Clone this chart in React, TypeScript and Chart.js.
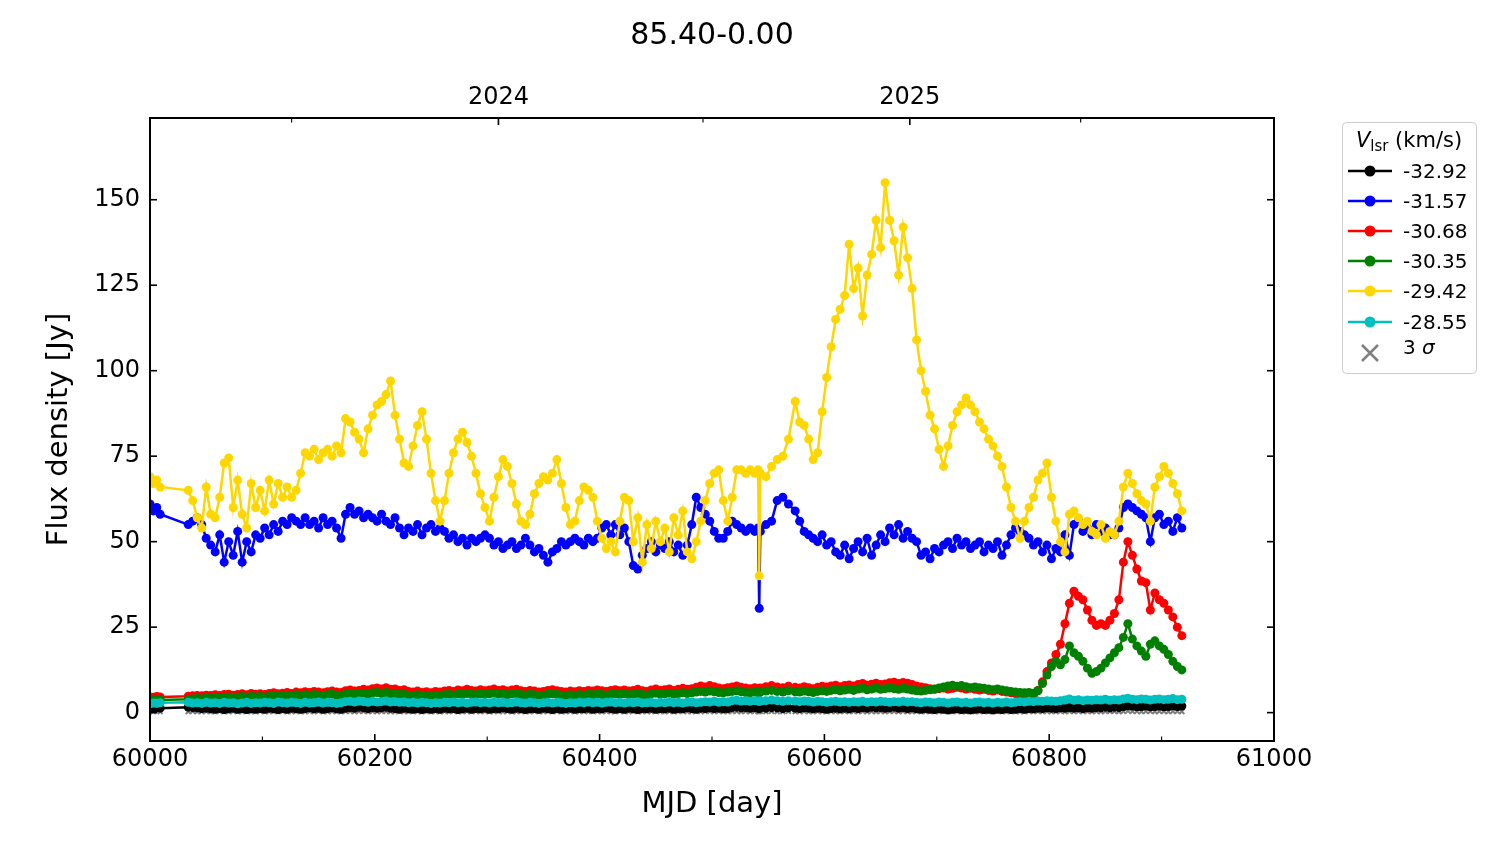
import { useEffect, useRef } from 'react';
import { Chart, registerables } from 'chart.js';

Chart.register(...registerables);

const FONT = "'DejaVu Sans', 'Liberation Sans', sans-serif";

// ---------------- data ----------------
const chartTitle = '85.40-0.00';
const velocities = ['-32.92', '-31.57', '-30.68', '-30.35', '-29.42', '-28.55'];
const seriesColors = ['#000000', '#0000ff', '#ff0000', '#008000', '#ffd700', '#00bfbf'];

const mjdTicks = [60000, 60200, 60400, 60600, 60800, 61000];
const mjdMinorTicks = [60100, 60300, 60500, 60700, 60900];
const fluxTicks = [0, 25, 50, 75, 100, 125, 150];
const yearTicks = [60310, 60676];
const yearLabels = ['2024', '2025'];
const yearMinorTicks = [60126, 60492, 60828];

const mjd = [
  60000, 60003, 60006, 60009, 60034, 60038, 60042, 60046, 60050, 60054,
  60058, 60062, 60066, 60070, 60074, 60078, 60082, 60086, 60090, 60094,
  60098, 60102, 60106, 60110, 60114, 60118, 60122, 60126, 60130, 60134,
  60138, 60142, 60146, 60150, 60154, 60158, 60162, 60166, 60170, 60174,
  60178, 60182, 60186, 60190, 60194, 60198, 60202, 60206, 60210, 60214,
  60218, 60222, 60226, 60230, 60234, 60238, 60242, 60246, 60250, 60254,
  60258, 60262, 60266, 60270, 60274, 60278, 60282, 60286, 60290, 60294,
  60298, 60302, 60306, 60310, 60314, 60318, 60322, 60326, 60330, 60334,
  60338, 60342, 60346, 60350, 60354, 60358, 60362, 60366, 60370, 60374,
  60378, 60382, 60386, 60390, 60394, 60398, 60402, 60406, 60410, 60414,
  60418, 60422, 60426, 60430, 60434, 60438, 60442, 60446, 60450, 60454,
  60458, 60462, 60466, 60470, 60474, 60478, 60482, 60486, 60490, 60494,
  60498, 60502, 60506, 60510, 60514, 60518, 60522, 60526, 60530, 60534,
  60538, 60541, 60542, 60543, 60548, 60553, 60558, 60563, 60568, 60574,
  60578, 60582, 60586, 60590, 60594, 60598, 60602, 60606, 60610, 60614,
  60618, 60622, 60626, 60630, 60634, 60638, 60642, 60646, 60650, 60654,
  60658, 60662, 60666, 60670, 60674, 60678, 60682, 60686, 60690, 60694,
  60698, 60702, 60706, 60710, 60714, 60718, 60722, 60726, 60730, 60734,
  60738, 60742, 60746, 60750, 60754, 60758, 60762, 60766, 60770, 60774,
  60778, 60782, 60786, 60790, 60794, 60798, 60802, 60806, 60810, 60814,
  60818, 60822, 60826, 60830, 60834, 60838, 60842, 60846, 60850, 60854,
  60858, 60862, 60866, 60870, 60874, 60878, 60882, 60886, 60890, 60894,
  60898, 60902, 60906, 60910, 60914, 60918,
];

const flux3292 = [
  1.4, 1.2, 1.5, 1.3, 1.6, 1.5, 1.4, 1.2, 1.3, 1.1,
  1.0, 1.2, 0.9, 1.1, 1.3, 1.0, 1.2, 0.9, 1.1, 1.0,
  1.2, 1.0, 1.3, 1.1, 0.9, 1.2, 1.0, 1.3, 1.1, 1.0,
  1.2, 1.4, 1.1, 1.3, 1.0, 1.2, 1.4, 1.1, 1.0, 1.3,
  1.5, 1.3, 1.6, 1.4, 1.2, 1.5, 1.3, 1.4, 1.6, 1.3,
  1.2, 1.0, 1.3, 1.1, 1.0, 1.2, 0.9, 1.1, 1.0, 1.2,
  1.0, 1.3, 1.1, 1.2, 0.9, 1.1, 1.3, 1.0, 1.2, 1.1,
  1.3, 1.0, 1.2, 1.1, 1.4, 1.2, 1.0, 1.3, 1.1, 0.9,
  1.1, 1.2, 1.0, 1.3, 1.1, 0.9, 1.2, 1.0, 1.1, 1.3,
  1.0, 1.2, 1.1, 1.3, 1.0, 1.2, 1.1, 1.4, 1.2, 1.0,
  1.2, 1.0, 1.3, 1.1, 0.9, 1.2, 1.1, 1.3, 1.0, 1.2,
  1.1, 1.3, 1.0, 1.2, 1.1, 1.4, 1.2, 1.0, 1.3, 1.2,
  1.4, 1.2, 1.3, 1.1, 1.2, 1.5, 1.6, 1.4, 1.5, 1.3,
  1.5, 1.3, 1.2, 1.4, 1.3, 1.5, 1.4, 1.2, 1.4, 1.3,
  1.2, 1.4, 1.3, 1.1, 1.3, 1.2, 1.0, 1.2, 1.3, 1.1,
  1.3, 1.1, 1.4, 1.2, 1.5, 1.3, 1.6, 1.4, 1.5, 1.3,
  1.4, 1.6, 1.3, 1.5, 1.2, 1.4, 1.1, 1.0, 1.2, 1.0,
  0.9, 1.1, 1.0, 0.8, 1.0, 1.1, 0.9, 1.0, 0.8, 1.0,
  1.1, 0.9, 1.0, 0.8, 1.0, 0.9, 1.1, 0.9, 1.0, 1.2,
  1.0, 1.2, 1.1, 1.3, 1.2, 1.4, 1.3, 1.2, 1.4, 1.3,
  1.5, 1.3, 1.4, 1.2, 1.4, 1.3, 1.5, 1.4, 1.6, 1.4,
  1.6, 1.5, 1.8, 2.0, 1.9, 1.7, 1.8, 1.9, 1.7, 1.8,
  1.9, 1.7, 1.8, 2.0, 1.8, 1.9,
];

const flux3157 = [
  61, 59, 60, 58, 55, 56, 57, 55, 51, 49,
  47, 52, 44, 50, 46, 53, 44, 50, 47, 52,
  51, 54, 52, 55, 53, 56, 55, 57, 56, 55,
  57, 55, 56, 54, 57, 55, 56, 54, 51, 58,
  60, 58, 59, 57, 58, 57, 56, 58, 56, 55,
  57, 54, 52, 54, 53, 55, 52, 54, 55, 53,
  54, 53, 51, 52, 50, 51, 49, 51, 50, 51,
  52, 51, 49, 50, 48, 49, 50, 48, 49, 51,
  49, 47, 48, 46, 44, 47, 48, 50, 49, 50,
  51, 50, 49, 51, 50, 51, 54, 55, 52, 55,
  52, 54, 50, 43, 42, 46, 48, 50, 47, 49,
  48, 50, 47, 49, 46, 49, 55, 63, 60, 58,
  56, 53, 51, 51, 53, 56, 55, 54, 53, 54,
  53, 54, 30.5, 53, 55, 56, 62, 63, 61, 59,
  56, 53, 52, 51, 50, 52, 49, 50, 47, 46,
  49, 45, 48, 50, 47, 51, 46, 49, 52, 50,
  54, 52, 55, 51, 53, 51, 50, 46, 47, 45,
  48, 47, 49, 50, 48, 51, 49, 50, 48, 49,
  50, 47, 49, 48, 50, 46, 49, 52, 54, 53,
  52, 51, 49, 50, 47, 49, 45, 48, 47, 52,
  46, 55, 56, 53, 54, 52, 55, 53, 54, 52,
  52, 54, 60, 61, 60, 59, 58, 57, 50, 57,
  58, 55, 56, 53, 57, 54,
];

const flux3068 = [
  4.6, 4.5, 4.7, 4.6, 4.8, 4.9, 5.0, 4.9, 5.1, 5.0,
  5.2, 5.0, 5.3, 5.4, 5.1, 5.3, 5.5, 5.2, 5.6, 5.4,
  5.5, 5.3, 5.6, 5.8, 5.5, 5.7, 5.9, 5.6, 6.0, 5.8,
  6.1, 5.9, 6.2, 6.0, 5.8, 6.1, 6.3, 6.0, 5.9, 6.4,
  6.6, 6.3, 6.5, 6.8, 6.6, 7.0, 7.2, 6.9, 7.3, 6.8,
  6.9, 6.5, 6.7, 6.2, 6.0, 6.3, 5.9, 6.1, 5.8, 6.2,
  6.0, 6.3, 6.5, 6.2, 6.6, 6.4, 6.8, 6.5, 6.3, 6.7,
  6.4, 6.6, 6.9, 6.5, 6.7, 6.3, 6.6, 6.8, 6.4, 6.2,
  6.5, 6.3, 6.0, 6.2, 6.5, 6.7, 6.4, 6.2, 6.0, 6.3,
  6.1, 6.4, 6.2, 6.5, 6.3, 6.6, 6.4, 6.2, 6.5, 6.7,
  6.4, 6.6, 6.3, 6.5, 6.8, 6.4, 6.2, 6.6, 6.9, 6.5,
  6.7, 6.9, 6.5, 6.8, 7.1, 6.8, 7.0, 7.4, 7.8, 7.5,
  7.9, 7.6, 7.2, 7.0, 7.3, 7.5, 7.8, 7.4, 7.2, 7.0,
  7.3, 7.1, 7.0, 7.2, 7.6, 7.9, 7.5, 7.3, 7.7, 7.4,
  7.2, 7.6, 7.3, 7.0, 7.4, 7.7, 7.5, 7.8, 8.0, 7.6,
  7.9, 8.1, 7.8, 8.2, 8.5, 8.0, 8.3, 8.6, 8.2, 8.4,
  8.7, 8.9, 8.5, 8.8, 8.6, 8.2, 7.8, 7.5, 7.3, 7.0,
  6.8, 7.0, 7.2, 6.9, 7.1, 7.4, 7.2, 6.9, 7.1, 6.8,
  6.6, 6.8, 6.5, 6.3, 6.6, 6.2, 6.0, 5.8, 5.6, 5.4,
  5.2, 5.3, 5.0, 6.5, 9.0, 12.0, 14.5, 17.0, 20.0, 26.0,
  32, 35.5, 34, 33, 30, 27, 25.5, 26, 25.5, 27,
  29, 33, 44, 50, 46, 42, 38.5, 38, 30, 35,
  33, 32, 30, 28, 25, 22.5,
];

const flux3035 = [
  3.8, 3.6, 3.9, 3.7, 3.9, 4.0, 4.2, 4.0, 4.3, 4.1,
  4.4, 4.2, 4.5, 4.6, 4.3, 4.5, 4.7, 4.4, 4.8, 4.6,
  4.7, 4.5, 4.8, 5.0, 4.7, 4.9, 5.1, 4.8, 5.2, 5.0,
  5.2, 5.0, 5.3, 5.1, 4.9, 5.2, 5.4, 5.1, 5.0, 5.5,
  5.6, 5.3, 5.5, 5.7, 5.4, 5.8, 5.9, 5.6, 5.9, 5.5,
  5.6, 5.3, 5.4, 5.0, 4.9, 5.2, 4.8, 5.0, 4.7, 5.1,
  4.9, 5.2, 5.4, 5.1, 5.5, 5.3, 5.6, 5.4, 5.2, 5.5,
  5.3, 5.5, 5.7, 5.4, 5.6, 5.2, 5.5, 5.6, 5.3, 5.1,
  5.4, 5.2, 5.0, 5.1, 5.4, 5.5, 5.3, 5.1, 4.9, 5.2,
  5.0, 5.3, 5.1, 5.4, 5.2, 5.5, 5.3, 5.1, 5.4, 5.5,
  5.3, 5.5, 5.2, 5.4, 5.6, 5.3, 5.1, 5.5, 5.7, 5.4,
  5.5, 5.7, 5.4, 5.6, 5.8, 5.6, 5.8, 6.0, 6.2, 6.0,
  6.3, 6.1, 5.9, 5.8, 6.0, 6.2, 6.4, 6.1, 5.9, 5.8,
  6.0, 5.9, 5.8, 6.0, 6.3, 6.5, 6.2, 6.0, 6.4, 6.1,
  6.0, 6.3, 6.1, 5.9, 6.2, 6.4, 6.2, 6.5, 6.7, 6.4,
  6.6, 6.8, 6.5, 6.9, 7.1, 6.7, 6.9, 7.2, 6.8, 7.0,
  7.2, 7.0, 6.8, 7.1, 6.9, 6.6, 6.4, 6.3, 6.5, 6.7,
  6.9, 7.2, 7.5, 7.8, 8.0, 7.7, 7.9, 7.6, 7.3, 7.5,
  7.3, 7.1, 6.9, 6.7, 6.9, 6.6, 6.4, 6.2, 6.0, 5.9,
  5.8, 5.9, 5.7, 6.4, 8.5, 11.0, 13.5, 15.0, 14.0, 15.5,
  19.5, 17.5, 16.5, 15, 13, 11.5, 12, 13, 14.5, 16,
  17.5, 19, 22, 26, 21.5, 19.5, 18, 16.5, 20, 21,
  19.5, 18.5, 17, 15, 13.5, 12.5,
];

const flux2942 = [
  69, 67, 68, 66, 65, 62, 57, 54, 66, 58,
  57, 63, 73, 74.5, 60, 68, 58, 54, 67, 60,
  65, 59, 68, 61, 67, 63, 66, 63, 65, 70,
  76, 75, 77, 74, 76, 77, 75, 78, 76, 86,
  85, 82, 80, 76, 83, 87, 90, 91, 93, 97,
  87, 80, 73, 72, 78, 84, 88, 80, 70, 62,
  56, 62, 70, 76, 80, 82, 79, 75, 70, 64,
  60, 56, 63, 69, 74, 72, 67, 61, 56, 55,
  58, 64, 67, 69, 68, 70, 74, 67, 60, 55,
  56, 62, 66, 65, 63, 56, 51, 48, 50, 47,
  56, 63, 62, 50, 57, 44, 55, 48, 56, 50,
  54, 47, 57, 52, 59, 47, 45, 50, 56, 62,
  67, 70, 71, 62, 56, 63, 71, 71, 70, 71,
  70, 71, 40, 70, 69, 72, 74, 75, 80, 91,
  85, 84, 80, 74, 76, 88, 98, 107, 115, 118,
  122, 137, 124, 130, 116, 128, 134, 144, 136, 155,
  144, 138, 128, 142, 133, 124, 109, 100, 94, 87,
  83, 77, 72, 78, 84, 88, 90, 92, 90, 88,
  85, 83, 80, 78, 75, 72, 66, 60, 56, 51,
  56, 60, 63, 68, 70, 73, 63, 56, 50, 47,
  58, 59, 57, 55, 56, 53, 52, 55, 51, 53,
  52, 56, 66, 70, 67, 64, 62, 61, 56, 66,
  69, 72, 70, 67, 64, 59,
];

const flux2855 = [
  2.6, 2.8, 2.7, 2.9, 3.0, 2.8, 2.9, 2.7, 3.0, 2.8,
  2.9, 2.7, 3.0, 2.8, 2.9, 2.6, 2.8, 3.0, 2.7, 2.9,
  2.8, 3.0, 2.9, 2.7, 3.1, 2.9, 2.8, 3.0, 2.9, 2.7,
  3.0, 2.8, 2.9, 3.1, 2.8, 3.0, 2.9, 2.7, 2.9, 3.2,
  3.3, 3.1, 3.4, 3.2, 3.0, 3.3, 3.1, 3.2, 3.4, 3.1,
  3.2, 3.0, 3.1, 2.9, 3.0, 2.8, 3.0, 2.9, 2.7, 2.9,
  2.8, 3.0, 2.9, 3.1, 2.9, 3.0, 2.8, 3.0, 3.1, 2.9,
  3.0, 2.8, 3.1, 2.9, 3.0, 2.8, 2.9, 3.1, 2.9, 2.8,
  3.0, 2.9, 2.7, 2.9, 3.0, 2.8, 3.0, 2.9, 2.7, 2.9,
  2.8, 3.0, 2.9, 3.1, 2.9, 3.0, 2.8, 3.0, 3.1, 2.9,
  3.0, 2.8, 3.0, 2.9, 3.1, 2.8, 2.9, 3.0, 2.8, 3.0,
  2.9, 3.1, 2.9, 3.0, 2.8, 3.0, 3.1, 2.9, 3.0, 3.2,
  3.1, 3.3, 3.0, 3.2, 3.1, 3.5, 3.6, 3.4, 3.5, 3.3,
  3.5, 3.4, 3.3, 3.4, 3.5, 3.7, 3.5, 3.3, 3.5, 3.4,
  3.2, 3.4, 3.3, 3.1, 3.3, 3.2, 3.0, 3.2, 3.3, 3.1,
  3.2, 3.0, 3.2, 3.1, 3.3, 3.0, 3.2, 3.1, 3.3, 3.2,
  3.0, 3.2, 3.1, 3.3, 3.1, 3.2, 3.0, 2.9, 3.1, 3.0,
  2.9, 3.1, 3.0, 2.8, 3.0, 3.1, 2.9, 3.0, 2.8, 3.0,
  3.1, 2.9, 3.0, 2.8, 3.0, 2.9, 3.1, 2.9, 3.0, 3.2,
  3.1, 3.3, 3.2, 3.4, 3.3, 3.5, 3.4, 3.3, 3.5, 3.7,
  4.0, 3.6, 3.8, 3.5, 3.7, 3.6, 3.8, 3.7, 3.9, 3.6,
  3.8, 3.7, 4.0, 4.2, 3.9, 3.8, 4.0, 3.9, 3.7, 3.9,
  4.0, 3.8, 3.9, 4.1, 3.8, 3.9,
];

const threeSigma = [
  0.4, 0.3, 0.4, 0.3, 0.3, 0.4, 0.3, 0.3, 0.4, 0.3,
  0.3, 0.4, 0.3, 0.3, 0.4, 0.3, 0.3, 0.4, 0.3, 0.3,
  0.4, 0.3, 0.3, 0.4, 0.3, 0.4, 0.3, 0.3, 0.4, 0.3,
  0.3, 0.4, 0.3, 0.4, 0.3, 0.3, 0.4, 0.3, 0.3, 0.4,
  0.4, 0.3, 0.4, 0.4, 0.3, 0.4, 0.3, 0.4, 0.4, 0.3,
  0.3, 0.4, 0.3, 0.3, 0.4, 0.3, 0.3, 0.4, 0.3, 0.3,
  0.3, 0.4, 0.3, 0.4, 0.3, 0.3, 0.4, 0.3, 0.4, 0.3,
  0.4, 0.3, 0.3, 0.4, 0.3, 0.4, 0.3, 0.3, 0.4, 0.3,
  0.3, 0.4, 0.3, 0.3, 0.4, 0.3, 0.4, 0.3, 0.3, 0.4,
  0.3, 0.3, 0.4, 0.3, 0.4, 0.3, 0.3, 0.4, 0.3, 0.3,
  0.4, 0.3, 0.3, 0.4, 0.3, 0.3, 0.4, 0.3, 0.4, 0.3,
  0.3, 0.4, 0.3, 0.3, 0.4, 0.3, 0.3, 0.4, 0.3, 0.4,
  0.4, 0.3, 0.4, 0.3, 0.3, 0.4, 0.4, 0.3, 0.4, 0.3,
  0.4, 0.3, 0.3, 0.4, 0.3, 0.4, 0.3, 0.3, 0.4, 0.3,
  0.3, 0.4, 0.3, 0.3, 0.4, 0.3, 0.3, 0.4, 0.3, 0.3,
  0.4, 0.3, 0.4, 0.3, 0.4, 0.3, 0.4, 0.3, 0.4, 0.3,
  0.4, 0.4, 0.3, 0.4, 0.3, 0.3, 0.4, 0.3, 0.3, 0.4,
  0.3, 0.3, 0.4, 0.3, 0.3, 0.4, 0.3, 0.3, 0.4, 0.3,
  0.3, 0.4, 0.3, 0.3, 0.4, 0.3, 0.3, 0.4, 0.3, 0.3,
  0.3, 0.4, 0.3, 0.4, 0.3, 0.4, 0.3, 0.3, 0.4, 0.3,
  0.4, 0.3, 0.4, 0.3, 0.4, 0.3, 0.4, 0.3, 0.4, 0.4,
  0.4, 0.3, 0.4, 0.5, 0.4, 0.4, 0.3, 0.4, 0.4, 0.3,
  0.4, 0.4, 0.3, 0.4, 0.4, 0.3,
];

const seriesValues = [flux3292, flux3157, flux3068, flux3035, flux2942, flux2855];

// ---------------- helpers ----------------
function pairs(values: number[]) {
  const n = Math.min(values.length, mjd.length);
  const out: { x: number; y: number }[] = [];
  for (let i = 0; i < n; i++) out.push({ x: mjd[i], y: values[i] });
  return out;
}

const decorPlugin = {
  id: 'decor',
  afterDatasetsDraw(chart: any) {
    const { ctx, chartArea: a, scales } = chart;
    const xs = scales.x;
    const ys = scales.y;
    ctx.save();
    ctx.strokeStyle = '#000';
    const seg = (x1: number, y1: number, x2: number, y2: number, w: number) => {
      ctx.lineWidth = w;
      ctx.beginPath();
      ctx.moveTo(x1, y1);
      ctx.lineTo(x2, y2);
      ctx.stroke();
    };
    const MAJ = 7;
    const MIN = 4.5;
    for (const v of mjdTicks) {
      const px = xs.getPixelForValue(v);
      seg(px, a.bottom, px, a.bottom - MAJ, 1.6);
    }
    for (const v of mjdMinorTicks) {
      const px = xs.getPixelForValue(v);
      seg(px, a.bottom, px, a.bottom - MIN, 1.1);
    }
    for (const v of yearTicks) {
      const px = xs.getPixelForValue(v);
      seg(px, a.top, px, a.top + MAJ, 1.6);
    }
    for (const v of yearMinorTicks) {
      const px = xs.getPixelForValue(v);
      seg(px, a.top, px, a.top + MIN, 1.1);
    }
    for (const v of fluxTicks) {
      const py = ys.getPixelForValue(v);
      seg(a.left, py, a.left + MAJ, py, 1.6);
      seg(a.right, py, a.right - MAJ, py, 1.6);
    }
    ctx.lineWidth = 2;
    ctx.strokeRect(a.left, a.top, a.right - a.left, a.bottom - a.top);
    ctx.restore();
  },
  afterDraw(chart: any) {
    const { ctx, chartArea: a } = chart;
    ctx.save();
    // title
    ctx.fillStyle = '#000';
    ctx.textAlign = 'center';
    ctx.textBaseline = 'alphabetic';
    ctx.font = `30px ${FONT}`;
    ctx.fillText(chartTitle, (a.left + a.right) / 2, 44);

    // legend box
    const bx = 1342, by = 122, bw = 134, bh = 251;
    ctx.beginPath();
    if (ctx.roundRect) ctx.roundRect(bx + 0.5, by + 0.5, bw, bh, 4);
    else ctx.rect(bx + 0.5, by + 0.5, bw, bh);
    ctx.fillStyle = 'rgba(255,255,255,0.8)';
    ctx.fill();
    ctx.strokeStyle = '#cccccc';
    ctx.lineWidth = 1;
    ctx.stroke();

    // legend title: V_lsr (km/s)
    ctx.textAlign = 'left';
    ctx.fillStyle = '#000';
    const fV = `italic 21px ${FONT}`;
    const fSub = `15px ${FONT}`;
    const fRest = `21px ${FONT}`;
    ctx.font = fV;
    const wV = ctx.measureText('V').width;
    ctx.font = fSub;
    const wSub = ctx.measureText('lsr').width;
    ctx.font = fRest;
    const rest = ' (km/s)';
    const wRest = ctx.measureText(rest).width;
    let tx = bx + bw / 2 - (wV + wSub + wRest) / 2;
    const tyBase = 147;
    ctx.font = fV;
    ctx.fillText('V', tx, tyBase);
    tx += wV;
    ctx.font = fSub;
    ctx.fillText('lsr', tx, tyBase + 4);
    tx += wSub;
    ctx.font = fRest;
    ctx.fillText(rest, tx, tyBase);

    // legend rows
    const rowY = [171, 201, 231, 261, 291, 322];
    const lx1 = 1348, lx2 = 1392, mx = 1370, textX = 1403;
    velocities.forEach((label, i) => {
      const yy = rowY[i];
      ctx.strokeStyle = seriesColors[i];
      ctx.lineWidth = 2.5;
      ctx.beginPath();
      ctx.moveTo(lx1, yy);
      ctx.lineTo(lx2, yy);
      ctx.stroke();
      ctx.fillStyle = seriesColors[i];
      ctx.beginPath();
      ctx.arc(mx, yy, 5.5, 0, Math.PI * 2);
      ctx.fill();
      ctx.fillStyle = '#000';
      ctx.font = `20px ${FONT}`;
      ctx.fillText(label, textX, yy + 7.3);
    });
    // 3 sigma row
    const sy = 353;
    ctx.strokeStyle = '#808080';
    ctx.lineWidth = 2.5;
    const s = 8;
    ctx.beginPath();
    ctx.moveTo(mx - s, sy - s);
    ctx.lineTo(mx + s, sy + s);
    ctx.moveTo(mx - s, sy + s);
    ctx.lineTo(mx + s, sy - s);
    ctx.stroke();
    ctx.fillStyle = '#000';
    ctx.font = `20px ${FONT}`;
    const w3 = ctx.measureText('3 ').width;
    ctx.fillText('3 ', textX, sy + 1);
    ctx.font = `italic 20px ${FONT}`;
    ctx.fillText('σ', textX + w3, sy + 1);
    ctx.restore();
  },
};

export default function App() {
  const canvasRef = useRef<HTMLCanvasElement | null>(null);

  useEffect(() => {
    const canvas = canvasRef.current;
    if (!canvas) return;

    const lineSets = seriesValues.map((vals, i) => ({
      label: velocities[i],
      data: pairs(vals),
      borderColor: seriesColors[i],
      backgroundColor: seriesColors[i],
      pointBackgroundColor: seriesColors[i],
      pointBorderColor: seriesColors[i],
      borderWidth: 2.5,
      pointRadius: 4.5,
      pointHoverRadius: 4.5,
      pointBorderWidth: 0,
      tension: 0,
      order: seriesValues.length - i + 1,
    }));

    const sigmaSet = {
      label: '3 σ',
      data: pairs(threeSigma),
      showLine: false,
      pointStyle: 'crossRot',
      pointRadius: 3.5,
      pointHoverRadius: 3.5,
      pointBorderWidth: 2,
      pointBorderColor: '#808080',
      pointBackgroundColor: '#808080',
      borderColor: '#808080',
      order: 20,
    };

    const tickFont = { family: FONT, size: 24 };

    const chart = new Chart(canvas, {
      type: 'line',
      data: { datasets: [...lineSets, sigmaSet] as any },
      options: {
        animation: false,
        responsive: false,
        events: [],
        layout: { padding: { left: 0, right: 226, top: 0, bottom: 0 } },
        plugins: {
          legend: { display: false },
          tooltip: { enabled: false },
          title: { display: false },
        },
        scales: {
          x: {
            type: 'linear',
            position: 'bottom',
            min: 60000,
            max: 61000,
            afterBuildTicks: (s: any) => {
              s.ticks = mjdTicks.map((v) => ({ value: v }));
            },
            afterFit: (s: any) => {
              s.height = 103;
              s.paddingLeft = 0;
              s.paddingRight = 0;
            },
            ticks: {
              color: '#000',
              font: tickFont,
              padding: 4,
              maxRotation: 0,
              autoSkip: false,
              callback: (v: any) => String(v),
            },
            grid: { display: false, drawTicks: false },
            border: { display: false },
            title: {
              display: true,
              text: 'MJD [day]',
              color: '#000',
              font: { family: FONT, size: 29 },
              padding: { top: 0, bottom: 22 },
            },
          },
          x2: {
            type: 'linear',
            position: 'top',
            min: 60000,
            max: 61000,
            afterBuildTicks: (s: any) => {
              s.ticks = yearTicks.map((v) => ({ value: v }));
            },
            afterFit: (s: any) => {
              s.height = 118;
              s.paddingLeft = 0;
              s.paddingRight = 0;
            },
            ticks: {
              color: '#000',
              font: tickFont,
              padding: 6,
              maxRotation: 0,
              autoSkip: false,
              callback: (v: any) => {
                const k = yearTicks.indexOf(Number(v));
                return k >= 0 ? yearLabels[k] : '';
              },
            },
            grid: { display: false, drawTicks: false },
            border: { display: false },
          },
          y: {
            type: 'linear',
            position: 'left',
            min: -8.3,
            max: 173.9,
            afterBuildTicks: (s: any) => {
              s.ticks = fluxTicks.map((v) => ({ value: v }));
            },
            afterFit: (s: any) => {
              s.width = 150;
              s.paddingTop = 0;
              s.paddingBottom = 0;
            },
            ticks: {
              color: '#000',
              font: tickFont,
              padding: 10,
              autoSkip: false,
              callback: (v: any) => String(v),
            },
            grid: { display: false, drawTicks: false },
            border: { display: false },
            title: {
              display: true,
              text: 'Flux density [Jy]',
              color: '#000',
              font: { family: FONT, size: 29 },
              padding: { top: 42, bottom: 0 },
            },
          },
        },
      } as any,
      plugins: [decorPlugin],
    });

    return () => chart.destroy();
  }, []);

  return (
    <div style={{ position: 'fixed', left: 0, top: 0, width: 1500, height: 844, background: '#ffffff' }}>
      <canvas ref={canvasRef} width={1500} height={844} style={{ display: 'block' }} />
    </div>
  );
}
